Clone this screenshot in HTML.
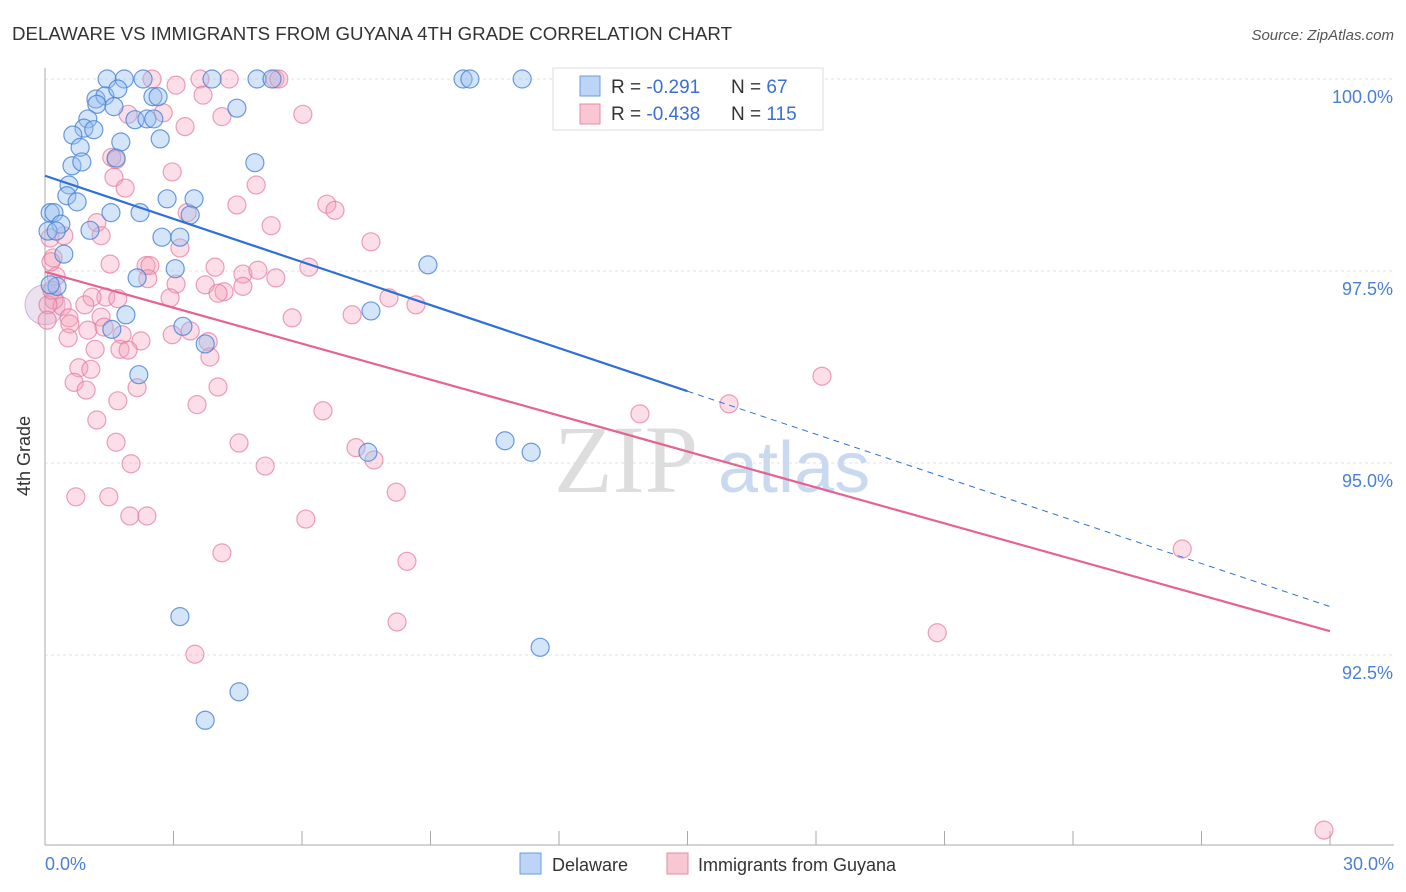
<!DOCTYPE html>
<html><head><meta charset="utf-8"><style>
body{margin:0;background:#fff;font-family:"Liberation Sans",sans-serif}
svg{display:block}
</style></head><body>
<svg width="1406" height="892">
<text x="12" y="40" font-size="18" fill="#333" textLength="720" lengthAdjust="spacingAndGlyphs">DELAWARE VS IMMIGRANTS FROM GUYANA 4TH GRADE CORRELATION CHART</text>
<text x="1394" y="40" font-size="15" fill="#555" font-style="italic" text-anchor="end">Source: ZipAtlas.com</text>
<g id="grid"></g>
<text x="554" y="492" font-family="Liberation Serif,serif" font-size="96" fill="#ddd">ZIP</text>
<text x="718" y="492" font-size="72" fill="#c9d9f0">atlas</text>
<line x1="45" y1="68" x2="45" y2="845" stroke="#aaa"/>
<line x1="45" y1="845" x2="1394" y2="845" stroke="#aaa"/>
<text x="30" y="456" font-size="18" fill="#333" transform="rotate(-90 30 456)" text-anchor="middle">4th Grade</text>
<text x="45" y="870" font-size="18" fill="#4a7fd4">0.0%</text>
<text x="1394" y="870" font-size="18" fill="#4a7fd4" text-anchor="end">30.0%</text>
<g id="pts"></g>
<g id="trends"></g>
<g>
<rect x="553" y="68" width="270" height="62" fill="#fff" stroke="#ddd"/>
<rect x="580" y="76" width="20" height="20" fill="#bcd4f5" stroke="#6a9be0"/>
<rect x="580" y="104" width="20" height="20" fill="#f9c6d4" stroke="#e98aa6"/>
<text x="611" y="93" font-size="19" fill="#333">R = <tspan fill="#3b6fd4">-0.291</tspan></text>
<text x="731" y="93" font-size="19" fill="#333">N = <tspan fill="#3b6fd4"> 67</tspan></text>
<text x="611" y="120" font-size="19" fill="#333">R = <tspan fill="#3b6fd4">-0.438</tspan></text>
<text x="731" y="120" font-size="19" fill="#333">N = <tspan fill="#3b6fd4">115</tspan></text>
</g>
<g>
<rect x="520" y="853" width="21" height="21" fill="#bcd4f5" stroke="#6a9be0"/>
<text x="552" y="871" font-size="18" fill="#333">Delaware</text>
<rect x="667" y="853" width="21" height="21" fill="#f9c6d4" stroke="#e98aa6"/>
<text x="698" y="871" font-size="18" fill="#333">Immigrants from Guyana</text>
</g>
</svg>
<script>
const yTicks=[100,97.5,95,92.5];
const yTickLabels=["100.0%","97.5%","95.0%","92.5%"];
const xTicks=[0,3,6,9,12,15,18,21,24,27,30];
const blueX=[1.45,1.85,2.29,3.90,4.95,5.30,9.76,9.92,11.14,1.19,1.40,1.70,2.52,2.64,4.48,1.21,1.61,1.00,0.91,1.14,0.65,2.10,2.38,2.54,0.82,1.77,2.69,0.63,0.86,1.66,4.90,0.56,0.51,0.75,2.85,3.48,1.54,2.22,3.39,0.12,0.21,0.37,1.05,0.07,0.26,2.73,3.15,0.44,8.94,3.04,2.15,0.28,0.12,1.89,1.56,3.22,3.74,7.61,2.19,10.74,11.35,7.54,3.15,11.56,4.53,3.74];
const blueY=[100,100,100,100,100,100,100,100,100,99.74,99.78,99.87,99.77,99.77,99.62,99.67,99.64,99.48,99.36,99.34,99.27,99.47,99.48,99.48,99.11,99.18,99.22,98.87,98.92,98.97,98.91,98.62,98.48,98.40,98.44,98.44,98.26,98.26,98.23,98.26,98.26,98.11,98.03,98.02,98.02,97.94,97.94,97.72,97.58,97.53,97.41,97.30,97.32,96.93,96.74,96.78,96.55,96.98,96.15,95.29,95.14,95.14,93.00,92.60,92.02,91.65];
const pinkX=[2.50,3.62,4.30,5.37,5.46,3.06,3.69,1.94,2.76,4.13,3.27,6.02,1.56,1.66,2.97,1.61,4.93,1.87,4.48,3.32,6.58,6.77,1.21,5.28,1.31,3.15,7.61,0.12,0.44,0.19,1.52,2.36,2.45,3.97,4.62,4.97,6.16,0.26,5.39,4.62,2.40,3.06,3.74,4.18,4.04,2.92,1.42,1.70,1.10,8.03,8.66,7.17,5.77,0.21,0.40,0.93,1.31,0.56,0.58,1.00,1.38,1.80,2.24,2.97,3.39,3.81,0.54,1.17,1.75,1.94,3.85,0.79,1.07,0.68,2.15,4.04,0.96,1.70,3.55,6.49,1.21,13.89,15.97,18.14,1.66,4.53,7.26,7.68,2.01,5.14,0.72,1.49,8.20,1.98,2.38,6.09,4.13,8.45,26.55,8.22,20.83,3.50,29.86,0.07,0.16,0.05,0.14];
const pinkY=[100,100,100,100,100,99.92,99.79,99.54,99.56,99.51,99.38,99.54,98.98,98.95,98.79,98.72,98.62,98.58,98.36,98.26,98.37,98.29,98.13,98.09,97.96,97.80,97.88,97.93,97.96,97.67,97.59,97.57,97.57,97.55,97.46,97.51,97.55,97.43,97.41,97.30,97.40,97.33,97.32,97.23,97.21,97.15,97.16,97.14,97.16,97.15,97.06,96.93,96.89,97.12,97.04,97.06,96.90,96.89,96.81,96.73,96.77,96.67,96.59,96.67,96.72,96.58,96.63,96.48,96.48,96.47,96.38,96.24,96.22,96.05,95.98,95.99,95.95,95.81,95.76,95.68,95.56,95.64,95.77,96.13,95.27,95.26,95.20,95.04,94.99,94.96,94.56,94.56,94.62,94.31,94.31,94.27,93.83,93.72,93.88,92.93,92.79,92.51,90.22,97.06,97.25,96.86,97.62];
const bigPoint=[0,97.06];
const blueTrend=[98.74,93.13]; const blueSolidEnd=15;
const pinkTrend=[97.49,92.81];
const NS="http://www.w3.org/2000/svg";
function sx(v){return 45+v*1285/30;}
function sy(v){return 79+(100-v)*76.8;}
function mk(tag,attrs,parent){const e=document.createElementNS(NS,tag);for(const k in attrs)e.setAttribute(k,attrs[k]);parent.appendChild(e);return e;}
const grid=document.getElementById('grid');
yTicks.forEach((t,i)=>{
 const l=mk('line',{x1:45,x2:1394,y1:sy(t),y2:sy(t),stroke:'#e2e2e2','stroke-dasharray':'3,3'},grid);
 
 
 const tx=mk('text',{x:1393,y:sy(t)+24,'font-size':18,fill:'#4a7fd4','text-anchor':'end'},grid);
 tx.textContent=yTickLabels[i];
 
 
});
xTicks.forEach(t=>{
 const l=mk('line',{x1:sx(t),x2:sx(t),y1:831,y2:845,stroke:'#aaa'},grid);
 
 
});
const pts=document.getElementById('pts');
const bp=mk('circle',{cx:sx(bigPoint[0]),cy:sy(bigPoint[1]),r:20,fill:'rgba(200,170,210,0.35)',stroke:'rgba(180,140,200,0.6)'},pts);


pinkX.forEach((x,i)=>{
 const c=mk('circle',{cx:sx(x),cy:sy(pinkY[i]),r:9,fill:'rgba(244,160,185,0.35)',stroke:'rgba(230,120,155,0.7)','stroke-width':1.2},pts);
 
 
});
blueX.forEach((x,i)=>{
 const c=mk('circle',{cx:sx(x),cy:sy(blueY[i]),r:9,fill:'rgba(150,190,240,0.4)',stroke:'rgba(70,130,215,0.8)','stroke-width':1.2},pts);
 
 
});
const tr=document.getElementById('trends');
const bMid=blueTrend[0]+(blueTrend[1]-blueTrend[0])*blueSolidEnd/30;
const b1=mk('line',{x1:sx(0),y1:sy(blueTrend[0]),x2:sx(blueSolidEnd),y2:sy(bMid),stroke:'#2f6fd6','stroke-width':2.2},tr);


const b2=mk('line',{x1:sx(blueSolidEnd),y1:sy(bMid),x2:sx(30),y2:sy(blueTrend[1]),stroke:'#2f6fd6','stroke-width':1,'stroke-dasharray':'6,5'},tr);


const p1=mk('line',{x1:sx(0),y1:sy(pinkTrend[0]),x2:sx(30),y2:sy(pinkTrend[1]),stroke:'#e4648f','stroke-width':2.2},tr);


</script>
</body></html>
